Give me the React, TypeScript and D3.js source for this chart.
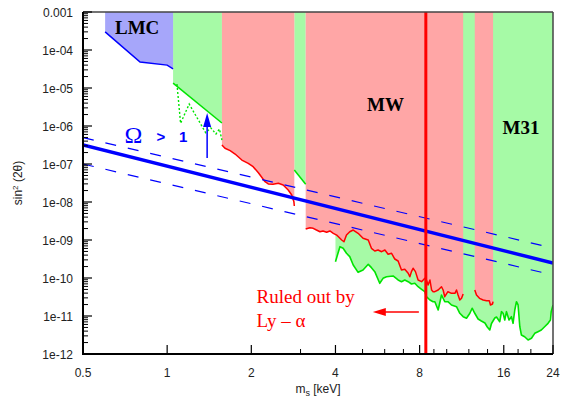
import React from "react";
import * as d3 from "d3";

// ---------- data ----------
const xMajorTicks = [0.5, 1, 2, 4, 8, 16, 24];
const xMajorLabels = ["0.5", "1", "2", "4", "8", "16", "24"];
const xMinorTicks = [3, 5, 6, 7, 9, 10, 12, 14, 18, 20];
const yTicks = [1e-3, 1e-4, 1e-5, 1e-6, 1e-7, 1e-8, 1e-9, 1e-10, 1e-11, 1e-12];
const yTickLabels = ["0.001", "1e-04", "1e-05", "1e-06", "1e-07", "1e-08", "1e-09", "1e-10", "1e-11", "1e-12"];

// LMC exclusion boundary
const lmcBound: number[][] = [[0.6, 3.0e-4], [0.8, 4.8e-5], [1.0, 4.0e-5], [1.05, 3.2e-5]];

// M31 exclusion boundaries
const m31A: number[][] = [[1.05, 1.35e-5], [1.57, 1.2e-6]];
const m31Dotted: number[][] = [
  [1.084, 1.27e-5], [1.117, 1.18e-6], [1.199, 3.79e-6], [1.373, 6.67e-7], [1.434, 8.86e-7],
  [1.495, 6.16e-7], [1.538, 8.34e-7], [1.57, 4.28e-7],
];
const m31Strip: number[][] = [[2.85, 6.95e-8], [3.13, 2.92e-8]];
const m31Main: number[][] = [
  [4.0, 2.69e-10], [4.15, 6.67e-10], [4.26, 6.05e-10], [4.38, 4.47e-10], [4.5, 3.64e-10],
  [4.63, 2.2e-10], [4.82, 1.41e-10], [5.02, 1.62e-10], [5.24, 2.29e-10], [5.38, 1.87e-10],
  [5.53, 1.47e-10], [5.76, 7.25e-11], [5.92, 9.8e-11], [6.09, 1.08e-10], [6.43, 1.13e-10],
  [6.7, 8.86e-11], [6.89, 8.0e-11], [7.08, 8.86e-11], [7.28, 8.0e-11], [7.48, 6.95e-11],
  [7.69, 7.25e-11], [7.9, 5.9e-11], [8.13, 5.04e-11], [8.35, 4.36e-11], [8.46, 3.22e-11],
  [8.71, 2.64e-11], [8.94, 2.38e-11], [9.07, 2.38e-11], [9.32, 1.44e-11], [9.58, 3.57e-11],
  [9.84, 2.38e-11], [10.1, 2.38e-11], [10.4, 1.95e-11], [10.84, 1.76e-11], [11.14, 1.18e-11],
  [11.45, 9.6e-12], [11.77, 8.7e-12], [12.1, 1.18e-11], [12.33, 1.6e-11], [12.6, 1.18e-11],
  [12.95, 8.34e-12], [13.3, 7.39e-12], [13.7, 6.54e-12], [13.97, 5.14e-12], [14.26, 4.28e-12],
  [14.46, 6.35e-12], [14.86, 8.86e-12], [15.07, 9.4e-12], [15.48, 7.08e-12], [15.7, 1.3e-11],
  [15.91, 1.18e-11], [16.13, 7.85e-12], [16.36, 1.3e-11], [16.71, 7.85e-12], [17.04, 9.6e-12],
  [17.27, 6.42e-12], [17.52, 1.44e-11], [17.76, 2.38e-11], [18.0, 1.95e-11], [18.26, 5.23e-12],
  [18.5, 3.16e-12], [19.0, 2.85e-12], [19.55, 2.34e-12], [20.1, 2.59e-12], [20.65, 3.5e-12],
  [21.2, 3.86e-12], [21.8, 4.28e-12], [22.4, 5.23e-12], [23.04, 6.42e-12], [23.5, 7.85e-12],
  [23.65, 1.3e-11], [24, 1.95e-11],
];

// Milky Way exclusion boundaries
const mwA: number[][] = [
  [1.57, 3.16e-7], [1.61, 2.59e-7], [1.68, 2.24e-7], [1.75, 1.83e-7], [1.85, 1.27e-7],
  [1.95, 1.04e-7], [2.03, 8.49e-8], [2.12, 5.9e-8], [2.24, 3.42e-8], [2.3, 2.98e-8],
  [2.39, 2.92e-8], [2.5, 3.1e-8], [2.6, 2.8e-8], [2.71, 2.07e-8], [2.79, 1.53e-8],
  [2.84, 1.02e-8], [2.85, 7.85e-9],
];
const mwB: number[][] = [
  [3.13, 1.95e-9], [3.24, 2.11e-9], [3.33, 2.03e-9], [3.42, 1.83e-9], [3.52, 1.65e-9],
  [3.61, 1.73e-9], [3.72, 1.6e-9], [3.82, 1.73e-9], [3.93, 1.5e-9], [4.04, 1.35e-9],
  [4.21, 1.0e-9], [4.29, 9.0e-10], [4.38, 1.35e-9], [4.5, 1.65e-9], [4.63, 1.83e-9],
  [4.82, 1.5e-9], [5.02, 1.11e-9], [5.24, 1.0e-9], [5.38, 6.05e-10], [5.53, 5.14e-10],
  [5.68, 5.46e-10], [5.85, 4.92e-10], [6.01, 5.46e-10], [6.17, 4.2e-10], [6.35, 4.47e-10],
  [6.52, 3.16e-10], [6.7, 2.8e-10], [6.89, 1.62e-10], [7.08, 1.69e-10], [7.28, 1.33e-10],
  [7.38, 1.08e-10], [7.48, 1.47e-10], [7.58, 1.8e-10], [7.73, 1.47e-10], [7.9, 8.86e-11],
  [8.13, 8.0e-11], [8.35, 9.8e-11], [8.46, 8.86e-11], [8.58, 6.54e-11], [8.71, 8.86e-11],
  [8.83, 4.83e-11], [8.94, 4.36e-11], [9.07, 4.36e-11], [9.32, 4.83e-11], [9.58, 5.9e-11],
  [9.71, 4.83e-11], [9.84, 3.22e-11], [10.1, 4.36e-11], [10.4, 3.95e-11], [10.7, 3.95e-11],
  [10.84, 4.83e-11], [10.98, 3.57e-11], [11.14, 2.64e-11], [11.3, 2.92e-11], [11.45, 3.79e-11],
];
const mwC: number[][] = [
  [12.6, 4.83e-11], [12.78, 3.57e-11], [13.1, 2.92e-11], [13.5, 2.64e-11], [13.88, 2.53e-11],
  [14.2, 2.53e-11], [14.34, 1.95e-11], [14.58, 2.07e-11], [14.65, 2.38e-11],
];

// Omega = 1 line and its band
const omegaLine: number[][] = [[0.5, 3.16e-7], [24, 2.48e-10]];
const omegaUpper: number[][] = [[0.5, 4.97e-7], [24, 6.15e-10]];
const omegaLower: number[][] = [[0.5, 1.0e-7], [24, 1.2e-10]];
const omegaArrow: number[][] = [[1.39, 1.44e-7], [1.39, 2.2e-6]];

// Lyman-alpha limit
const lyaMass = 8.42;
const lyaArrow: number[][] = [[7.95, 1.27e-11], [5.44, 1.27e-11]];

const SANS = "'Liberation Sans', Arial, Helvetica, sans-serif";
const SERIF = "'Liberation Serif', 'Times New Roman', serif";

export default function App() {
  const L = 83, R = 553, T = 12, B = 354;
  const x = d3.scaleLog().domain([0.5, 24]).range([L, R]);
  const y = d3.scaleLog().domain([1e-12, 1e-3]).range([B, T]);
  const topArea = d3
    .area<number[]>()
    .x((d) => x(d[0]))
    .y0(y(1e-3))
    .y1((d) => y(d[1]));
  const line = d3
    .line<number[]>()
    .x((d) => x(d[0]))
    .y((d) => y(d[1]));

  const redFill = "#ffa6a6";
  const greenFill = "#a6faa6";
  const blueFill = "#a6a6fa";
  const red = "#ff0000";
  const green = "#00e400";
  const blue = "#0000ff";

  const yMinor: number[] = [];
  for (let k = -12; k < -3; k++) {
    for (let j = 2; j <= 9; j++) yMinor.push(j * Math.pow(10, k));
  }

  const ax = x(omegaArrow[0][0]);
  const aTop = y(omegaArrow[1][1]);
  const aBase = y(omegaArrow[0][1]);
  const lx0 = x(lyaArrow[0][0]);
  const lx1 = x(lyaArrow[1][0]);
  const ly = y(lyaArrow[0][1]);

  return (
    <svg
      width={562}
      height={397}
      style={{ position: "absolute", left: 0, top: 0, background: "#fff" }}
    >
      <rect x={0} y={0} width={562} height={397} fill="#fff" />
      <defs>
        <clipPath id="plot">
          <rect x={L} y={T} width={R - L} height={B - T} />
        </clipPath>
      </defs>
      <g clipPath="url(#plot)">
        {/* fills */}
        <path d={topArea(m31A) || ""} fill={greenFill} />
        <path d={topArea(m31Strip) || ""} fill={greenFill} />
        <path d={topArea(m31Main) || ""} fill={greenFill} />
        <path d={topArea(lmcBound) || ""} fill={blueFill} />
        <path d={topArea(mwA) || ""} fill={redFill} />
        <path d={topArea(mwB) || ""} fill={redFill} />
        <path d={topArea(mwC) || ""} fill={redFill} />

        {/* boundary curves */}
        <path d={line(lmcBound) || ""} fill="none" stroke={blue} strokeWidth={1.5} />
        <path d={line(m31A) || ""} fill="none" stroke={green} strokeWidth={1.5} />
        <path d={line(m31Dotted) || ""} fill="none" stroke={green} strokeWidth={1.4} strokeDasharray="2,2" />
        <path d={line(m31Strip) || ""} fill="none" stroke={green} strokeWidth={1.5} />
        <path d={line(m31Main) || ""} fill="none" stroke={green} strokeWidth={1.6} strokeLinejoin="round" />
        <path d={line(mwA) || ""} fill="none" stroke={red} strokeWidth={1.5} strokeLinejoin="round" />
        <path d={line(mwB) || ""} fill="none" stroke={red} strokeWidth={1.5} strokeLinejoin="round" />
        <path d={line(mwC) || ""} fill="none" stroke={red} strokeWidth={1.5} strokeLinejoin="round" />

        {/* Omega lines */}
        <path d={line(omegaUpper) || ""} fill="none" stroke={blue} strokeWidth={1.2} strokeDasharray="11,12" />
        <path d={line(omegaLower) || ""} fill="none" stroke={blue} strokeWidth={1.2} strokeDasharray="11,12" />
        <path d={line(omegaLine) || ""} fill="none" stroke={blue} strokeWidth={3.5} />

        {/* Ly-alpha limit */}
        <line x1={x(lyaMass)} x2={x(lyaMass)} y1={T} y2={B} stroke={red} strokeWidth={3} />
      </g>

      {/* Omega arrow */}
      <line x1={ax} x2={ax} y1={aBase} y2={aTop + 10} stroke={blue} strokeWidth={1.5} />
      <polygon points={`${ax},${aTop} ${ax - 4},${aTop + 14} ${ax + 4},${aTop + 14}`} fill={blue} />

      {/* Ly-alpha arrow */}
      <line x1={lx0} x2={lx1 + 10} y1={ly} y2={ly} stroke={red} strokeWidth={1.5} />
      <polygon points={`${lx1},${ly} ${lx1 + 13},${ly - 4} ${lx1 + 13},${ly + 4}`} fill={red} />

      {/* annotations */}
      <text x={115} y={34} fontFamily={SERIF} fontWeight="bold" fontSize={19} fill="#000">LMC</text>
      <text x={367} y={111} fontFamily={SERIF} fontWeight="bold" fontSize={19} fill="#000">MW</text>
      <text x={502.5} y={134} fontFamily={SERIF} fontWeight="bold" fontSize={19} fill="#000">M31</text>
      <text x={124.5} y={142.5} fontFamily={SERIF} fontSize={24} fill={blue}>Ω</text>
      <text x={156.5} y={141.5} fontFamily={SANS} fontWeight="bold" fontSize={15} fill={blue}>&gt;</text>
      <text x={179} y={141.5} fontFamily={SANS} fontWeight="bold" fontSize={15} fill={blue}>1</text>
      <text x={256.5} y={303} fontFamily={SERIF} fontSize={19} fill={red}>Ruled out by</text>
      <text x={256.5} y={327} fontFamily={SERIF} fontSize={19} fill={red}>Ly – α</text>

      {/* frame */}
      <line x1={L} x2={R} y1={T} y2={T} stroke="#444" strokeWidth={1.5} />
      <line x1={R} x2={R} y1={T} y2={B} stroke="#444" strokeWidth={1.5} />

      {/* y axis */}
      {yTicks.map((t, i) => (
        <g key={"yt" + i}>
          <line x1={L} x2={L + 9} y1={y(t)} y2={y(t)} stroke="#000" strokeWidth={1.2} />
          <text x={73} y={y(t) + 4.5} textAnchor="end" fontFamily={SANS} fontSize={12} fill="#222">
            {yTickLabels[i]}
          </text>
        </g>
      ))}
      {yMinor.map((t, i) => (
        <line key={"ym" + i} x1={L} x2={L + 5} y1={y(t)} y2={y(t)} stroke="#000" strokeWidth={1} />
      ))}
      <line x1={L} x2={L} y1={T} y2={B + 1} stroke="#000" strokeWidth={2} />

      {/* x axis */}
      {xMajorTicks.map((t, i) => (
        <g key={"xt" + i}>
          <line x1={x(t)} x2={x(t)} y1={B} y2={B - 9} stroke="#000" strokeWidth={1.2} />
          <text x={x(t)} y={377} textAnchor="middle" fontFamily={SANS} fontSize={12} fill="#222">
            {xMajorLabels[i]}
          </text>
        </g>
      ))}
      {xMinorTicks.map((t, i) => (
        <line key={"xm" + i} x1={x(t)} x2={x(t)} y1={B} y2={B - 5} stroke="#000" strokeWidth={1} />
      ))}
      <line x1={L - 1} x2={R} y1={B} y2={B} stroke="#000" strokeWidth={2} />

      {/* axis titles */}
      <text x={318} y={393} textAnchor="middle" fontFamily={SANS} fontSize={12} fill="#222">
        m<tspan dy={3} fontSize={9}>s</tspan>
        <tspan dy={-3}> [keV]</tspan>
      </text>
      <text
        transform="translate(22,183) rotate(-90)"
        textAnchor="middle"
        fontFamily={SANS}
        fontSize={12}
        fill="#222"
      >
        sin<tspan dy={-4} fontSize={8}>2</tspan>
        <tspan dy={4}> (2θ)</tspan>
      </text>
    </svg>
  );
}
